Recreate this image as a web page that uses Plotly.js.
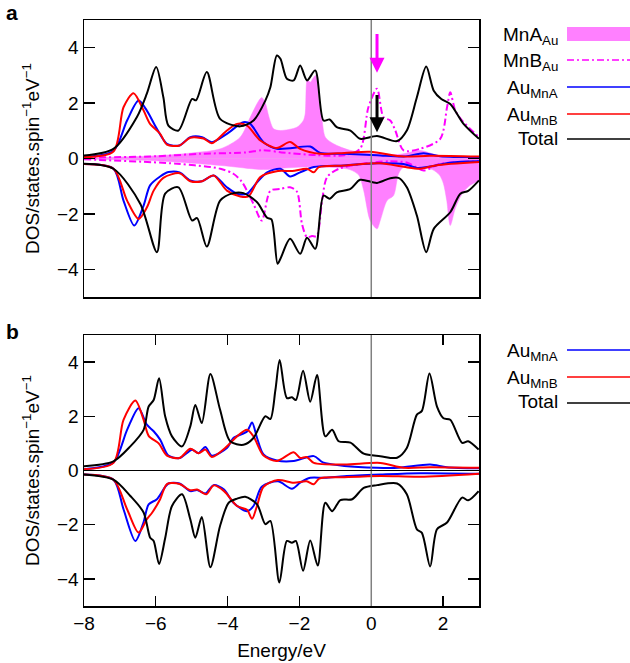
<!DOCTYPE html>
<html>
<head>
<meta charset="utf-8">
<script src="https://cdn.plot.ly/plotly-3.0.1.min.js"></script>
<style>html,body{margin:0;padding:0;background:#fff;}#chart{width:630px;height:663px;}</style>
</head>
<body>
<div id="chart"></div>
<script>
// ---------- Panel a data ----------
const maUpA_x = [-8, -6, -5, -4.2, -3.65, -3.37, -3.15, -3.05, -2.95, -2.85, -2.72, -2.53, -2.07, -1.9, -1.84, -1.78, -1.7, -1.62, -1.55, -1.45, -1.37, -1.28, -1.05, -0.6, 0, 0.8, 1.36, 1.9, 3];
const maUpA_y = [0.02, 0.1, 0.2, 0.35, 0.77, 1.49, 2.05, 2.2, 2.0, 1.5, 1.07, 1.01, 1.13, 1.35, 1.61, 2.85, 2.75, 2.9, 3.0, 2.0, 1.37, 0.77, 0.53, 0.3, 0.18, 0.15, 0.29, 0.1, 0.05];
const maDnA_x = [-8, -6, -4.2, -3, -2.5, -1.5, -0.6, -0.35, -0.21, -0.03, 0.16, 0.25, 0.44, 0.62, 0.76, 0.9, 1.3, 1.7, 1.9, 2.01, 2.1, 2.2, 2.34, 2.53, 2.75, 3];
const maDnA_y = [-0.02, -0.08, -0.25, -0.4, -0.35, -0.3, -0.4, -0.6, -1.16, -2.24, -2.54, -2.24, -1.52, -1.34, -0.55, -0.31, -0.3, -0.4, -0.6, -0.91, -1.5, -2.42, -1.8, -1.27, -0.97, -0.79];

const mbUpA_x = [-8, -6, -4.76, -3.5, -3.0, -2.5, -1.5, -0.75, -0.31, -0.08, 0.16, 0.34, 0.53, 0.67, 0.9, 1.36, 1.92, 2.11, 2.2, 2.34, 2.53, 3];
const mbUpA_y = [0.03, 0.08, 0.17, 0.22, 0.3, 0.22, 0.12, 0.12, 0.35, 1.85, 2.52, 1.49, 1.37, 1.01, 0.29, 0.35, 0.71, 1.85, 2.39, 1.73, 1.37, 0.77];
const mbDnA_x = [-8, -5.4, -4.2, -3.84, -3.6, -3.28, -3.05, -2.81, -2.53, -2.26, -2.07, -1.93, -1.79, -1.65, -1.52, -1.37, -1.23, -0.9, -0.3, 0.5, 1.0, 1.46, 1.9, 3];
const mbDnA_y = [-0.03, -0.19, -0.37, -0.55, -0.85, -1.64, -2.24, -1.16, -1.1, -1.04, -1.2, -2.36, -2.84, -2.8, -2.8, -1.52, -0.67, -0.37, -0.2, -0.1, -0.15, -0.43, -0.2, -0.1];

const bUpA_x = [-8, -7.18, -6.8, -6.48, -6.25, -5.97, -5.69, -5.34, -5.04, -4.71, -4.44, -4.02, -3.56, -3.37, -3.0, -2.63, -2.26, -1.7, -1.42, -0.75, 0.16, 0.9, 1.46, 1.92, 3];
const bUpA_y = [0.05, 0.28, 1.37, 2.09, 1.73, 1.07, 0.53, 0.47, 0.77, 0.77, 0.59, 0.89, 1.31, 1.25, 0.59, 0.35, 0.37, 0.43, 0.2, 0.17, 0.12, 0.07, 0.19, 0.08, 0.05];
const rUpA_x = [-8, -7.18, -6.9, -6.62, -6.34, -6.16, -5.88, -5.69, -5.34, -5.04, -4.67, -4.44, -4.02, -3.74, -3.46, -3.09, -2.63, -2.26, -1.98, -1.42, -0.75, -0.03, 0.9, 1.63, 3];
const rUpA_y = [0.05, 0.25, 1.85, 2.36, 1.73, 1.25, 0.89, 0.5, 0.47, 0.75, 0.72, 0.55, 1.01, 1.25, 1.19, 0.65, 0.38, 0.6, 0.35, 0.17, 0.2, 0.24, 0.07, 0.1, 0.07];
const bDnA_x = [-8, -7.18, -6.9, -6.6, -6.34, -6.16, -5.88, -5.65, -5.34, -5.04, -4.71, -4.39, -4.02, -3.74, -3.46, -3.18, -2.9, -2.53, -2.26, -1.98, -1.6, -0.75, 0.16, 0.9, 1.27, 1.6, 2.2, 3];
const bDnA_y = [-0.2, -0.37, -1.52, -2.42, -1.7, -0.97, -0.65, -0.49, -0.5, -0.79, -0.82, -0.61, -1.04, -1.27, -1.27, -0.86, -0.5, -0.37, -0.65, -0.5, -0.31, -0.25, -0.17, -0.2, -0.34, -0.3, -0.15, -0.1];
const rDnA_x = [-8, -7.18, -6.8, -6.48, -6.25, -6.06, -5.79, -5.34, -5.04, -4.71, -4.39, -4.02, -3.65, -3.42, -3.09, -2.6, -2.2, -1.79, -1.6, -1.46, -0.75, 0.25, 0.9, 1.36, 1.8, 3];
const rDnA_y = [-0.2, -0.37, -1.52, -2.18, -1.77, -1.16, -0.7, -0.53, -0.82, -0.82, -0.61, -1.16, -1.37, -1.37, -0.67, -0.45, -0.45, -0.37, -0.5, -0.31, -0.25, -0.17, -0.3, -0.37, -0.25, -0.13];

const totUpA_x = [-8, -7.18, -6.53, -6.25, -5.99, -5.79, -5.65, -5.37, -4.99, -4.88, -4.58, -4.21, -3.65, -3.28, -2.95, -2.81, -2.63, -2.53, -2.35, -2.16, -1.98, -1.79, -1.56, -1.33, -1.16, -0.96, -0.58, -0.31, 0.16, 0.72, 0.99, 1.27, 1.53, 1.74, 1.95, 2.2, 2.57, 3];
const totUpA_y = [0.11, 0.35, 1.49, 2.34, 3.30, 2.21, 1.19, 1.01, 2.15, 2.1, 3.12, 1.43, 1.16, 1.37, 2.09, 2.57, 3.72, 3.6, 2.88, 2.82, 3.36, 2.82, 3.18, 1.37, 1.41, 1.13, 1.01, 0.71, 0.81, 0.63, 1.01, 2.21, 3.32, 2.45, 2.15, 1.97, 1.25, 0.71];
const totDnA_x = [-8, -7.18, -6.43, -5.97, -5.74, -5.37, -4.99, -4.85, -4.58, -4.21, -3.84, -3.56, -3.18, -2.9, -2.78, -2.61, -2.53, -2.26, -1.98, -1.79, -1.56, -1.33, -1.16, -0.96, -0.58, -0.31, 0.16, 0.53, 0.76, 0.99, 1.27, 1.53, 1.74, 2.2, 2.48, 2.7, 3];
const totDnA_y = [-0.19, -0.37, -1.64, -3.38, -1.27, -1.04, -2.24, -2.15, -3.18, -1.52, -1.25, -1.25, -1.58, -2.14, -2.2, -3.80, -3.62, -2.9, -3.44, -2.86, -3.26, -1.34, -1.45, -1.22, -1.1, -0.77, -0.88, -0.71, -0.7, -1.04, -2.06, -3.38, -2.54, -1.94, -1.27, -1.17, -0.79];

// ---------- Panel b data ----------
const bUpB_x = [-8, -7.18, -6.8, -6.48, -6.25, -6.06, -5.88, -5.65, -5.34, -4.99, -4.81, -4.62, -4.44, -4.02, -3.84, -3.46, -3.32, -3.18, -3.0, -2.63, -2.16, -1.6, -1.35, -0.75, 0.16, 0.75, 1.64, 2.1, 3];
const bUpB_y = [0.05, 0.3, 1.5, 2.3, 1.69, 1.45, 1.14, 0.55, 0.46, 0.77, 0.64, 0.87, 0.55, 0.83, 1.2, 1.44, 1.77, 1.2, 0.59, 0.37, 0.35, 0.53, 0.3, 0.17, 0.1, 0.1, 0.22, 0.12, 0.08];
const rUpB_x = [-8, -7.18, -6.9, -6.57, -6.34, -6.2, -5.92, -5.69, -5.34, -5.04, -4.81, -4.62, -4.44, -4.02, -3.74, -3.46, -3.28, -3.0, -2.63, -2.16, -1.98, -1.8, -1.6, -0.75, 0.25, 0.9, 1.64, 3];
const rUpB_y = [0.05, 0.28, 1.87, 2.58, 1.87, 1.28, 1.0, 0.55, 0.46, 0.8, 0.64, 0.77, 0.5, 0.89, 1.26, 1.5, 1.26, 0.55, 0.35, 0.67, 0.46, 0.5, 0.28, 0.22, 0.28, 0.1, 0.12, 0.1];
const bDnB_x = [-8, -7.18, -6.9, -6.57, -6.34, -6.2, -5.97, -5.65, -5.34, -5.04, -4.85, -4.62, -4.39, -4.1, -3.84, -3.46, -3.28, -3.05, -2.6, -2.21, -1.98, -1.7, -1.3, -0.75, 0.25, 1.36, 3];
const bDnB_y = [-0.15, -0.34, -1.43, -2.6, -1.9, -1.25, -1.06, -0.48, -0.48, -0.76, -0.72, -0.85, -0.54, -0.7, -1.19, -1.5, -1.31, -0.6, -0.4, -0.67, -0.45, -0.27, -0.27, -0.21, -0.15, -0.1, -0.12];
const rDnB_x = [-8, -7.18, -6.8, -6.48, -6.25, -6.1, -5.88, -5.69, -5.34, -5.04, -4.85, -4.6, -4.39, -4.1, -3.74, -3.46, -3.32, -3.18, -3.0, -2.6, -2.16, -1.8, -1.6, -1.45, -0.75, 0.25, 1.36, 3];
const rDnB_y = [-0.15, -0.34, -1.43, -2.29, -1.8, -1.55, -1.06, -0.5, -0.5, -0.73, -0.7, -0.88, -0.55, -0.76, -1.31, -1.45, -1.78, -1.3, -0.6, -0.35, -0.45, -0.4, -0.51, -0.3, -0.25, -0.2, -0.23, -0.12];
const totUpB_x = [-8, -7.18, -6.71, -6.34, -6.2, -6.06, -5.91, -5.74, -5.55, -5.27, -5.04, -4.9, -4.72, -4.48, -4.21, -3.93, -3.56, -3.28, -2.95, -2.81, -2.67, -2.55, -2.35, -2.21, -2.1, -1.9, -1.7, -1.51, -1.28, -1.09, -0.91, -0.58, -0.21, 0.25, 0.72, 0.99, 1.27, 1.41, 1.62, 1.83, 2.01, 2.2, 2.53, 2.7, 2.99];
const totUpB_y = [0.16, 0.34, 0.89, 1.5, 2.36, 2.6, 3.4, 2.0, 1.26, 0.89, 1.63, 2.42, 1.75, 3.56, 2.24, 1.08, 0.95, 1.2, 2.0, 1.9, 2.97, 4.08, 2.67, 2.7, 2.6, 3.68, 2.54, 3.52, 1.26, 1.5, 1.08, 1.03, 0.62, 0.53, 0.47, 0.83, 2.06, 2.2, 3.58, 2.36, 1.93, 1.87, 1.02, 1.08, 0.77];
const totDnB_x = [-8, -7.18, -6.71, -6.34, -6.16, -6.06, -5.91, -5.74, -5.55, -5.27, -5.04, -4.9, -4.72, -4.48, -4.21, -3.97, -3.74, -3.51, -3.18, -2.95, -2.81, -2.56, -2.35, -2.21, -2.1, -1.9, -1.7, -1.49, -1.28, -1.09, -0.86, -0.53, -0.21, 0.16, 0.72, 0.99, 1.27, 1.41, 1.64, 1.83, 2.11, 2.53, 2.7, 2.99];
const totDnB_y = [-0.15, -0.34, -0.94, -1.55, -2.47, -2.6, -3.45, -2.5, -1.31, -0.88, -1.8, -2.48, -1.72, -3.57, -2.04, -1.19, -1.04, -0.97, -1.25, -1.98, -1.86, -4.13, -2.6, -2.67, -2.6, -3.7, -2.58, -3.51, -1.19, -1.5, -1.09, -1.06, -0.64, -0.54, -0.48, -0.88, -2.17, -2.3, -3.54, -2.17, -1.92, -1.0, -1.1, -0.76];

// tick labels
const xTicks = [-8, -6, -4, -2, 0, 2];
const yTicks = [-4, -2, 0, 2, 4];

// ---------- styles ----------
const BLUE = '#0000ff', RED = '#ff0000', BLACK = '#000000', MAG = '#ff00ff', FILL = '#ff80ff';
const LW = 2;
const DASHDOT = '7px,3px,2px,3px';
function line(x, y, color, xa, ya, dash) {
  return {x: x, y: y, xaxis: xa, yaxis: ya, type: 'scatter', mode: 'lines', hoverinfo: 'skip',
    line: {color: color, width: LW, shape: 'spline', smoothing: 0.8, dash: dash || 'solid'}, showlegend: false};
}
function fillTrace(x, y, xa, ya) {
  return {x: x, y: y, xaxis: xa, yaxis: ya, type: 'scatter', mode: 'lines', fill: 'tozeroy',
    fillcolor: FILL, line: {color: FILL, width: 0.5, shape: 'spline', smoothing: 0.8}, hoverinfo: 'skip', showlegend: false};
}

const traces = [
  fillTrace(maUpA_x, maUpA_y, 'x', 'y'),
  fillTrace(maDnA_x, maDnA_y, 'x', 'y'),
  line(mbUpA_x, mbUpA_y, MAG, 'x', 'y', DASHDOT),
  line(mbDnA_x, mbDnA_y, MAG, 'x', 'y', DASHDOT),
  line(bUpA_x, bUpA_y, BLUE, 'x', 'y'),
  line(bDnA_x, bDnA_y, BLUE, 'x', 'y'),
  line(rUpA_x, rUpA_y, RED, 'x', 'y'),
  line(rDnA_x, rDnA_y, RED, 'x', 'y'),
  line(totUpA_x, totUpA_y, BLACK, 'x', 'y'),
  line(totDnA_x, totDnA_y, BLACK, 'x', 'y'),
  line(bUpB_x, bUpB_y, BLUE, 'x2', 'y2'),
  line(bDnB_x, bDnB_y, BLUE, 'x2', 'y2'),
  line(rUpB_x, rUpB_y, RED, 'x2', 'y2'),
  line(rDnB_x, rDnB_y, RED, 'x2', 'y2'),
  line(totUpB_x, totUpB_y, BLACK, 'x2', 'y2'),
  line(totDnB_x, totDnB_y, BLACK, 'x2', 'y2')
];

const FONT = 'Liberation Sans, Arial, Helvetica, sans-serif';
const FS = 19;
const W = 395, H = 586; // plot area px
const px2x = p => (p - 84) / W;
const py2y = p => (606 - p) / H;

const yTitle = 'DOS/states.spin<sup>\u22121</sup>eV<sup>\u22121</sup>';
const baseY = {range: [-5, 5], tickvals: yTicks, ticks: 'inside', ticklen: 11, tickwidth: 1.3, tickcolor: '#000',
  showline: true, linecolor: '#000', linewidth: 1.5, mirror: 'ticks', showgrid: false, zeroline: false,
  tickfont: {family: FONT, size: FS, color: '#000'},
  title: {text: yTitle, font: {family: FONT, size: FS, color: '#000'}, standoff: 12}};

const shapes = [
  {type: 'line', xref: 'x', yref: 'y domain', x0: 0, x1: 0, y0: 0, y1: 1, line: {color: '#808080', width: 1.5}, layer: 'above'},
  {type: 'line', xref: 'x2', yref: 'y2 domain', x0: 0, x1: 0, y0: 0, y1: 1, line: {color: '#808080', width: 1.5}, layer: 'above'},
  {type: 'line', xref: 'x', yref: 'y', x0: -8, x1: 3, y0: 0, y1: 0, line: {color: '#c8c8c8', width: 0.8}, layer: 'below'},
  {type: 'line', xref: 'x2', yref: 'y2', x0: -8, x1: 3, y0: 0, y1: 0, line: {color: '#000', width: 1}, layer: 'above'}
];

// legend (custom, text right of which the sample sits)
const legA = [
  {label: 'MnA<sub>Au</sub>', py: 34, kind: 'fill'},
  {label: 'MnB<sub>Au</sub>', py: 60, kind: 'dashdot', color: MAG},
  {label: 'Au<sub>MnA</sub>', py: 87, kind: 'line', color: BLUE},
  {label: 'Au<sub>MnB</sub>', py: 114, kind: 'line', color: RED},
  {label: 'Total', py: 139, kind: 'line', color: BLACK}
];
const legB = [
  {label: 'Au<sub>MnA</sub>', py: 350, kind: 'line', color: BLUE},
  {label: 'Au<sub>MnB</sub>', py: 377, kind: 'line', color: RED},
  {label: 'Total', py: 403, kind: 'line', color: BLACK}
];
const annotations = [];
[...legA, ...legB].forEach(e => {
  const hasSub = e.label.indexOf('<sub>') >= 0;
  annotations.push({xref: 'paper', yref: 'paper', x: px2x(560), y: py2y(e.py + (hasSub ? 2 : -1)), xanchor: 'right', yanchor: 'middle',
    text: e.label, showarrow: false, font: {family: FONT, size: FS, color: '#000'}});
  if (e.kind === 'fill') {
    shapes.push({type: 'rect', xref: 'paper', yref: 'paper', x0: px2x(567), x1: px2x(630), y0: py2y(e.py + 7), y1: py2y(e.py - 7),
      fillcolor: FILL, line: {width: 0}});
  } else {
    shapes.push({type: 'line', xref: 'paper', yref: 'paper', x0: px2x(567), x1: px2x(630), y0: py2y(e.py), y1: py2y(e.py),
      line: {color: e.color, width: 1.6, dash: e.kind === 'dashdot' ? DASHDOT : 'solid'}});
  }
});
// panel labels
annotations.push({xref: 'paper', yref: 'paper', x: px2x(4), y: py2y(12), xanchor: 'left', yanchor: 'middle', text: '<b>a</b>', showarrow: false, font: {family: FONT, size: 21, color: '#000'}});
annotations.push({xref: 'paper', yref: 'paper', x: px2x(4), y: py2y(331), xanchor: 'left', yanchor: 'middle', text: '<b>b</b>', showarrow: false, font: {family: FONT, size: 21, color: '#000'}});
// arrows
annotations.push({xref: 'x', yref: 'y', axref: 'x', ayref: 'y', x: 0.16, y: 3.1, ax: 0.16, ay: 4.55, text: '', showarrow: true,
  arrowhead: 2, arrowsize: 1, arrowwidth: 3, arrowcolor: MAG});
annotations.push({xref: 'x', yref: 'y', axref: 'x', ayref: 'y', x: 0.16, y: 0.95, ax: 0.16, ay: 2.35, text: '', showarrow: true,
  arrowhead: 2, arrowsize: 1, arrowwidth: 3, arrowcolor: BLACK});

const layout = {
  width: 630, height: 663,
  margin: {l: 84, r: 151, t: 20, b: 57},
  paper_bgcolor: '#fff', plot_bgcolor: '#fff',
  font: {family: FONT, color: '#000'},
  showlegend: false,
  xaxis: {domain: [0, 1], anchor: 'y', range: [-8, 3], showticklabels: false, ticks: '', showline: true, linecolor: '#000', linewidth: 1.5, mirror: true, showgrid: false, zeroline: false},
  yaxis: Object.assign({}, baseY, {domain: [py2y(297), 1], anchor: 'x'}),
  xaxis2: {domain: [0, 1], anchor: 'y2', range: [-8, 3], tickvals: xTicks, ticks: 'inside', ticklen: 10, tickwidth: 1.3, tickcolor: '#000',
    showline: true, linecolor: '#000', linewidth: 1.5, mirror: 'ticks', showgrid: false, zeroline: false,
    tickfont: {family: FONT, size: FS, color: '#000'},
    title: {text: 'Energy/eV', font: {family: FONT, size: FS, color: '#000'}, standoff: 10}},
  yaxis2: Object.assign({}, baseY, {domain: [0, py2y(335)], anchor: 'x2'}),
  shapes: shapes,
  annotations: annotations
};

Plotly.newPlot('chart', traces, layout, {displayModeBar: false, staticPlot: true});
</script>
</body>
</html>
